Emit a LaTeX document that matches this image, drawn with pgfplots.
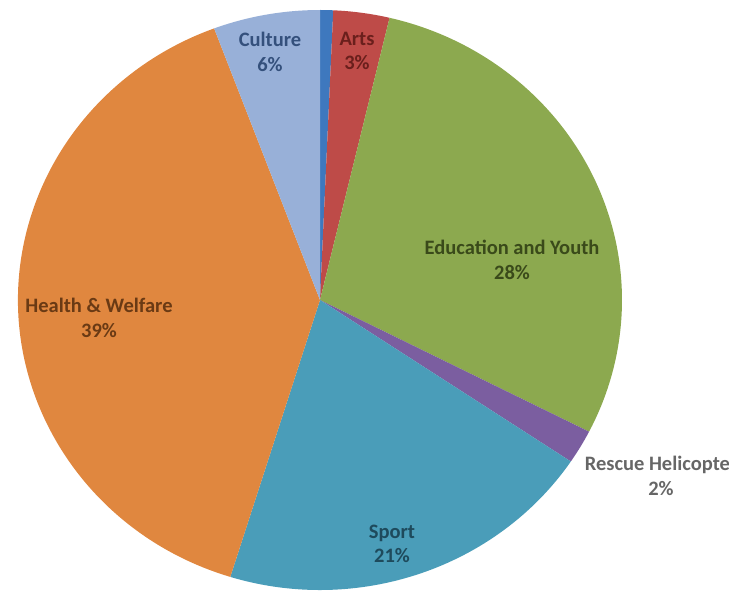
\documentclass[border=0pt]{standalone}
\usepackage{pgfplots}
\pgfplotsset{compat=1.18}
\usepackage{fontspec}
\setmainfont{Carlito}
\definecolor{cOther}{HTML}{3E78BE}
\definecolor{cArts}{HTML}{BE4B48}
\definecolor{cEdu}{HTML}{8CA94F}
\definecolor{cResc}{HTML}{7B5EA0}
\definecolor{cSport}{HTML}{4A9DB9}
\definecolor{cHealth}{HTML}{E0873F}
\definecolor{cCult}{HTML}{98B0D8}
\definecolor{tCult}{HTML}{34507C}
\definecolor{tArts}{HTML}{6A1F1C}
\definecolor{tEdu}{HTML}{3A4A1A}
\definecolor{tHealth}{HTML}{6A3A14}
\definecolor{tSport}{HTML}{1E4A5C}
\definecolor{tResc}{HTML}{666666}
% slice: {cumulative start %}{share %}{colour}
\newcommand\slice[3]{%
  \fill[#3] (axis cs:320,292) -- ++({90-3.6*(#1)}:302bp and 290bp)
    arc[start angle={90-3.6*(#1)}, end angle={90-3.6*((#1)+(#2))},
        x radius=302bp, y radius=290bp] -- cycle;}
\begin{document}
\begin{tikzpicture}
\useasboundingbox (0,0) rectangle (729bp,592bp);
\begin{axis}[
  at={(0,0)}, anchor=south west,
  x=1bp, y=1bp, scale only axis,
  xmin=0, xmax=729, ymin=0, ymax=592,
  hide axis, clip=false,
]
% shares (percent), clockwise from 12 o'clock
\slice{0}{0.7}{cOther}
\slice{0.7}{3.0}{cArts}
\slice{3.7}{28.8}{cEdu}
\slice{32.5}{1.9}{cResc}
\slice{34.4}{20.4}{cSport}
\slice{54.8}{39.5}{cHealth}
\slice{94.3}{5.7}{cCult}
\begin{scope}[every node/.style={align=center, inner sep=0pt,
    font=\fontsize{20.5bp}{24.5bp}\selectfont\bfseries}]
\node[text=tCult] at (axis cs:270,540) {Culture\\6\%};
\node[text=tArts] at (axis cs:357,541) {Arts\\3\%};
\node[text=tEdu] at (axis cs:512,332) {Education and Youth\\28\%};
\node[text=tResc] at (axis cs:661,116) {Rescue Helicopter\\2\%};
\node[text=tSport] at (axis cs:392,48) {Sport\\21\%};
\node[text=tHealth] at (axis cs:99,274) {Health \& Welfare\\39\%};
\end{scope}
\end{axis}
\end{tikzpicture}
\end{document}
